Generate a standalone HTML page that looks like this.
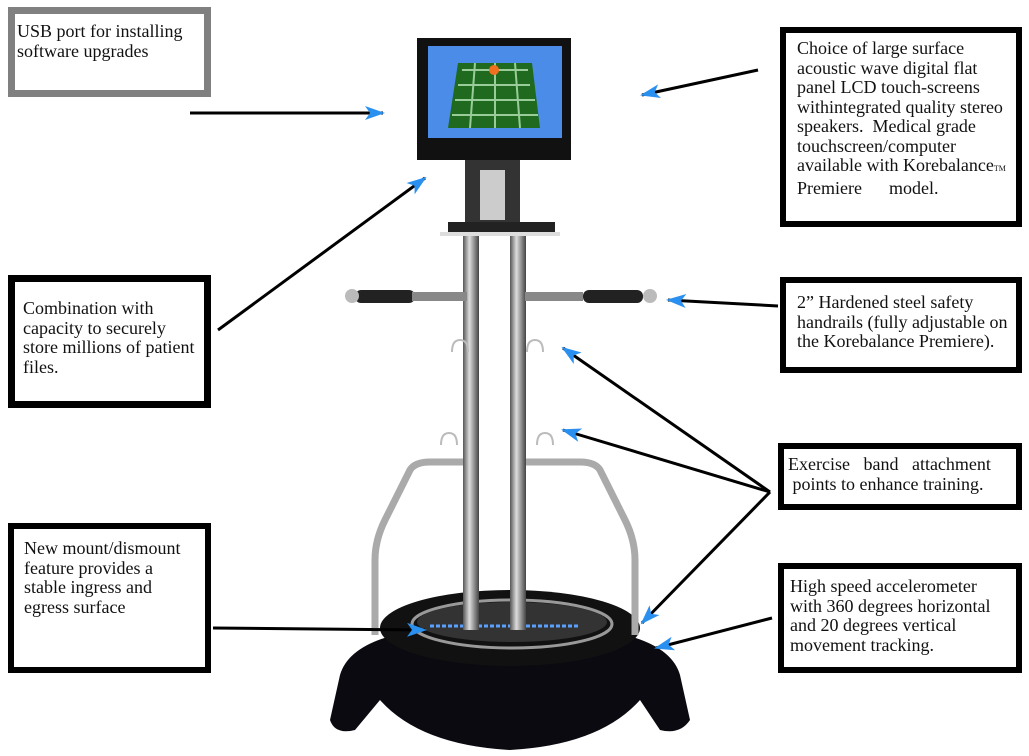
<!DOCTYPE html>
<html><head><meta charset="utf-8"><style>
body{margin:0;background:#fff;width:1029px;height:756px;overflow:hidden;position:relative;font-family:"Liberation Serif",serif;}
.b{position:absolute;box-sizing:border-box;border:6px solid #000;background:#fff;font-size:18px;line-height:19.5px;color:#111;padding:8px 10px;white-space:nowrap;}
svg{position:absolute;left:0;top:0}
</style></head><body>
<svg width="1029" height="756" viewBox="0 0 1029 756">
<defs>
<linearGradient id="pole" x1="0" x2="1"><stop offset="0" stop-color="#555"/><stop offset=".4" stop-color="#ddd"/><stop offset="1" stop-color="#444"/></linearGradient>
<marker id="ah" viewBox="0 0 20 14" refX="18" refY="7" markerWidth="20" markerHeight="14" orient="auto" markerUnits="userSpaceOnUse"><path d="M0,0 L20,7 L0,14 L5,7 Z" fill="#2a90f0"/></marker>
</defs>
<!-- base -->
<path d="M340,675 Q350,640 420,630 L600,630 Q670,640 680,675 L690,720 Q680,735 660,730 L640,700 Q600,745 510,750 Q420,745 380,700 L355,730 Q335,735 330,720 Z" fill="#0a0a10"/>
<ellipse cx="510" cy="628" rx="130" ry="38" fill="#111"/>
<ellipse cx="512" cy="624" rx="100" ry="24" fill="none" stroke="#999" stroke-width="3"/>
<ellipse cx="512" cy="622" rx="95" ry="20" fill="#333"/>
<line x1="430" y1="626" x2="580" y2="626" stroke="#5aa0ff" stroke-width="3" stroke-dasharray="4 2"/>
<!-- side rails -->
<path d="M375,635 L375,560 Q375,540 385,520 L410,470 Q415,462 430,462 L465,462" fill="none" stroke="#aaa" stroke-width="7"/>
<path d="M635,635 L635,560 Q635,540 625,520 L600,470 Q595,462 580,462 L525,462" fill="none" stroke="#aaa" stroke-width="7"/>
<!-- poles -->
<rect x="463" y="235" width="16" height="395" fill="url(#pole)"/>
<rect x="510" y="235" width="16" height="395" fill="url(#pole)"/>
<!-- hooks -->
<path d="M452,352 q0,-12 8,-12 q8,0 8,12" fill="none" stroke="#bbb" stroke-width="2"/>
<path d="M527,352 q0,-12 8,-12 q8,0 8,12" fill="none" stroke="#bbb" stroke-width="2"/>
<path d="M441,445 q0,-12 8,-12 q8,0 8,12" fill="none" stroke="#bbb" stroke-width="2"/>
<path d="M537,445 q0,-12 8,-12 q8,0 8,12" fill="none" stroke="#bbb" stroke-width="2"/>
<!-- handlebars -->
<rect x="355" y="290" width="60" height="13" rx="6" fill="#222"/>
<rect x="412" y="292" width="55" height="9" fill="#888"/>
<circle cx="352" cy="296" r="7" fill="#bbb"/>
<rect x="583" y="290" width="60" height="13" rx="6" fill="#222"/>
<rect x="525" y="292" width="58" height="9" fill="#888"/>
<circle cx="650" cy="296" r="7" fill="#bbb"/>
<!-- neck & shelf -->
<rect x="465" y="160" width="55" height="68" fill="#333"/>
<rect x="480" y="170" width="25" height="50" fill="#ccc"/>
<rect x="448" y="222" width="107" height="10" fill="#222"/>
<rect x="440" y="232" width="120" height="4" fill="#ddd"/>
<!-- monitor -->
<rect x="417" y="38" width="154" height="122" fill="#111"/>
<rect x="428" y="46" width="134" height="92" fill="#4a8ce8"/>
<path d="M458,63 L532,63 L540,128 L448,128 Z" fill="#1f6a1f"/>
<path d="M462,70 L528,70 M458,85 L530,85 M455,100 L535,100 M452,115 L538,115 M475,63 L470,128 M495,63 L495,128 M515,63 L520,128" stroke="#9c9" stroke-width="2" fill="none"/>
<circle cx="494" cy="70" r="5" fill="#f07020"/>
<!-- arrows -->
<g stroke="#000" stroke-width="3" fill="none" marker-end="url(#ah)">
<line x1="190" y1="113" x2="383" y2="113"/>
<line x1="758" y1="70" x2="642" y2="95"/>
<line x1="218" y1="330" x2="425" y2="178"/>
<line x1="778" y1="306" x2="668" y2="300"/>
<line x1="770" y1="492" x2="563" y2="348"/>
<line x1="770" y1="492" x2="563" y2="430"/>
<line x1="770" y1="492" x2="642" y2="623"/>
<line x1="772" y1="618" x2="656" y2="648"/>
<line x1="213" y1="628" x2="425" y2="630"/>
</g>
</svg>
<div class="b" style="left:8px;top:7px;width:203px;height:90px;border-color:#808080;border-width:7px;padding:8px 2px;">USB port for installing<br>software upgrades</div>
<div class="b" style="left:780px;top:27px;width:242px;height:200px;padding:6px 11px;">Choice of large surface<br>acoustic wave digital flat<br>panel LCD touch-screens<br>withintegrated quality stereo<br>speakers.&nbsp; Medical grade<br>touchscreen/computer<br>available with Korebalance<span style="font-size:8px">TM</span><br>Premiere &nbsp; &nbsp; &nbsp;model.</div>
<div class="b" style="left:8px;top:275px;width:203px;height:133px;border-width:7px;padding:17px 8px;">Combination with<br>capacity to securely<br>store millions of patient<br>files.</div>
<div class="b" style="left:780px;top:277px;width:242px;height:96px;padding:10px 11px;">2” Hardened steel safety<br>handrails (fully adjustable on<br>the Korebalance Premiere).</div>
<div class="b" style="left:778px;top:443px;width:244px;height:67px;padding:6px 4px;">Exercise &nbsp; band &nbsp; attachment<br>&nbsp;points to enhance training.</div>
<div class="b" style="left:8px;top:523px;width:203px;height:150px;padding:10px 10px;">New mount/dismount<br>feature provides a<br>stable ingress and<br>egress surface</div>
<div class="b" style="left:778px;top:563px;width:244px;height:110px;padding:8px 6px;">High speed accelerometer<br>with 360 degrees horizontal<br>and 20 degrees vertical<br>movement tracking.</div>
</body></html>
